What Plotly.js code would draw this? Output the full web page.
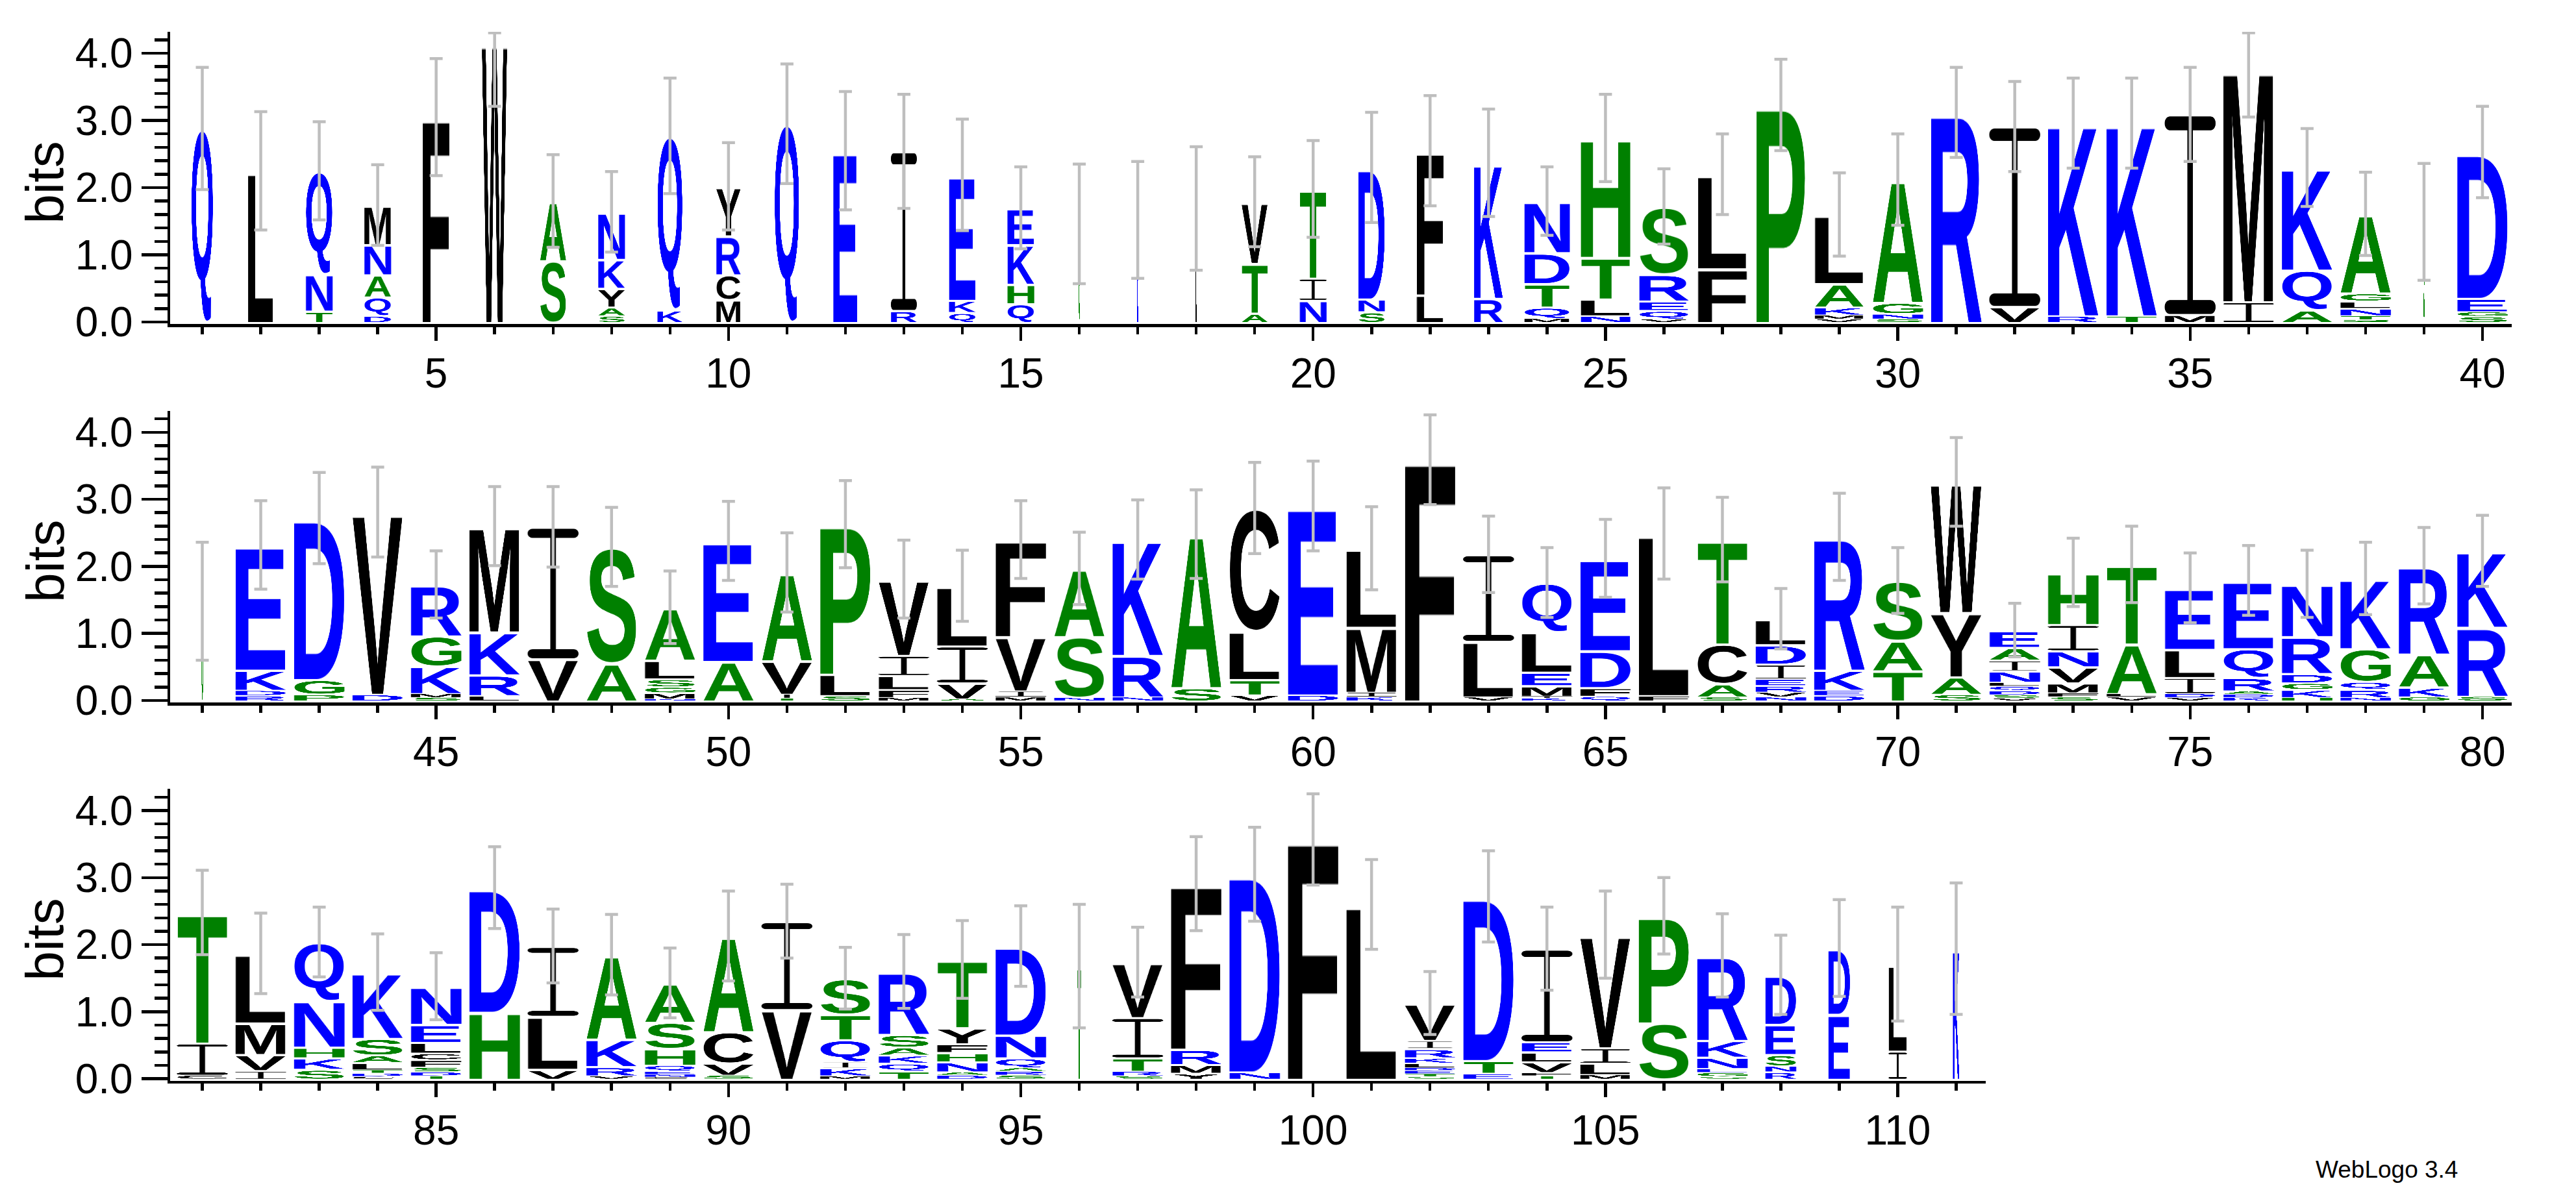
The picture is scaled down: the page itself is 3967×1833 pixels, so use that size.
<!DOCTYPE html>
<html>
<head>
<meta charset="utf-8">
<script src="https://cdn.plot.ly/plotly-3.0.1.min.js"></script>
<style>
html,body{margin:0;padding:0;background:#ffffff;}
#chart{width:3967px;height:1833px;}
</style>
</head>
<body>
<div id="chart"></div>
<script>
// ---------------- DATA (read from the reference logo) ----------------
// letters of each stack, bottom to top, positions 1..111
const letters = [
  "Q","L","TNQ","DQANM","F","W","SA","SAYKN","KQ","MCRY",
  "Q","E","RI","QKE","QHKE","G","E","L","ATV","NIT",
  "SND","LF","RK","MQTDN","NLTH","VQERS","FL","P","VMKAL","SNGA",
  "R","VI","RK","TK","MI","IM","AQK","STNLGA","G","SGED",
  "G","RDKE","PGD","DV","SMKGR","LRKM","VI","AS","NMGSLA","AE",
  "TIVA","SLP","MFLIV","AVIL","MIVF","NSA","NRK","SA","VTLC","DE",
  "KIML","F","VLI","KIMELQ","QFDE","FL","SACT","NVREIDL","DEKR","TAS",
  "SAYW","VSDQLNIAE","SFMVNIH","VLAT","VDILE","KDARQE","HKGDRN","NRQGK","GKAR","SRK",
  "CIT","IVML","SKHNQ","CDTLASK","TDSFCLEN","HD","VLI","VRKA","CNEQHSA","SVCA",
  "VI","MKIQTS","TQKASR","DANHFYT","SRAQND","T","SRTIV","YMRF","ND","F",
  "L","STEDLKRIV","ETD","TFVLEI","MLIV","SP","SGENKR","RNSED","ED","IL",
  "K"
];
// letter heights in bits, same order as the letters
const heights = [
  [2.88],[2.25],[0.17,0.55,1.53],[0.1,0.28,0.33,0.45,0.58],[3.05],[4.18],[0.92,0.88],[0.1,0.13,0.28,0.43,0.7],[0.19,2.58],[0.34,0.37,0.58,0.73],
  [2.95],[2.55],[0.18,2.36],[0.15,0.18,1.86],[0.28,0.29,0.59,0.54],[1.46],[1.52],[1.69],[0.14,0.74,0.91],[0.33,0.33,1.32],
  [0.16,0.19,1.95],[0.41,2.14],[0.36,2.01],[0.06,0.17,0.35,0.46,0.76],[0.1,0.25,0.62,1.77],[0.05,0.13,0.14,0.4,1.0],[0.8,1.4],[3.23],[0.05,0.06,0.12,0.35,1.02],[0.05,0.08,0.17,1.82],
  [3.12],[0.24,2.67],[0.1,2.86],[0.1,2.86],[0.12,2.97],[0.31,3.45],[0.19,0.59,1.52],[0.04,0.06,0.11,0.11,0.12,1.17],[1.49],[0.09,0.07,0.2,2.17],
  [1.48],[0.08,0.08,0.3,1.86],[0.1,0.22,2.4],[0.1,2.71],[0.05,0.06,0.41,0.45,0.76],[0.08,0.31,0.64,1.57],[0.63,1.96],[0.56,1.73],[0.03,0.09,0.09,0.12,0.28,0.78],[0.59,1.79],
  [0.04,0.06,0.5,1.31],[0.08,0.32,2.23],[0.05,0.12,0.21,0.3,1.13],[0.03,0.24,0.55,0.89],[0.06,0.09,0.81,1.44],[0.05,0.91,1.01],[0.06,0.62,1.72],[0.2,2.28],[0.09,0.23,0.72,1.83],[0.09,2.81],
  [0.06,0.07,0.97,1.17],[3.59],[0.06,0.83,1.29],[0.04,0.03,0.16,0.2,0.6,0.73],[0.07,0.13,0.55,1.37],[0.08,2.41],[0.06,0.2,0.59,1.55],[0.06,0.07,0.1,0.1,0.22,0.29,0.38],[0.08,0.08,0.3,1.98],[0.45,0.45,0.89],
  [0.1,0.26,0.96,1.94],[0.04,0.05,0.06,0.07,0.06,0.17,0.16,0.19,0.25],[0.06,0.06,0.15,0.24,0.24,0.39,0.77],[0.06,0.05,0.74,1.18],[0.05,0.06,0.24,0.42,0.91],[0.05,0.05,0.05,0.2,0.43,1.01],[0.05,0.12,0.1,0.14,0.55,0.78],[0.05,0.12,0.12,0.49,1.04],[0.06,0.15,0.49,1.31],[0.07,1.03,1.13],
  [0.06,0.48,1.94],[0.13,0.24,0.47,1.03],[0.15,0.17,0.16,0.69,0.87],[0.04,0.05,0.05,0.11,0.11,0.25,0.98],[0.05,0.06,0.07,0.11,0.1,0.16,0.27,0.56],[1.0,1.85],[0.15,0.79,1.04],[0.05,0.14,0.41,1.25],[0.03,0.04,0.05,0.09,0.25,0.39,0.58],[0.06,0.18,0.47,1.42],
  [1.04,1.31],[0.05,0.12,0.09,0.33,0.38,0.53],[0.12,0.12,0.12,0.12,0.19,0.93],[0.06,0.05,0.15,0.14,0.13,0.24,1.01],[0.06,0.06,0.05,0.15,0.34,1.32],[1.68],[0.05,0.07,0.2,0.6,0.82],[0.09,0.13,0.23,2.46],[0.11,2.94],[3.57],
  [2.6],[0.04,0.04,0.05,0.04,0.07,0.08,0.14,0.12,0.55],[0.09,0.19,2.44],[0.05,0.05,0.16,0.15,0.15,1.38],[0.07,0.17,0.23,1.68],[0.84,1.59],[0.04,0.06,0.06,0.17,0.25,1.26],[0.11,0.09,0.17,0.45,0.73],[0.97,0.98],[0.42,1.29],
  [1.94]
];
// relative stack width (fraction of non-gap sequences)
const stackWidths = [
  0.43,0.5,0.53,0.53,0.53,0.5,0.52,0.53,0.5,0.48,
  0.49,0.48,0.51,0.53,0.53,0.025,0.03,0.03,0.52,0.53,
  0.52,0.53,0.57,0.9,0.98,0.98,0.97,0.97,0.97,1,
  1,1,1,1,1,1,1,1,0.025,1,
  0.035,1,1,1,1,1,1,1,1,1,
  1,1,1,1,1,1,1,1,1,1,
  1,1,1,1,1,1,1,1,1,1,
  1,1,1,1,1,1,1,1,1,1,
  1,1,1,1,1,1,1,1,1,1,
  1,1,1,1,1,0.075,1,1,1,1,
  1,1,1,1,1,1,1,0.61,0.43,0.36,
  0.13
];
// half-length of the error bar (bits)
const errorHalf = [
  0.91,0.88,0.73,0.6,0.87,0.97,0.69,0.6,0.86,0.65,
  0.89,0.88,0.85,0.83,0.61,0.89,0.87,0.92,0.67,0.72,
  0.82,0.82,0.8,0.51,0.65,0.56,0.6,0.68,0.62,0.68,
  0.67,0.67,0.67,0.67,0.7,0.71,0.58,0.62,0.87,0.68,
  0.88,0.66,0.68,0.67,0.5,0.59,0.6,0.59,0.54,0.59,
  0.59,0.65,0.58,0.53,0.58,0.54,0.59,0.66,0.68,0.67,
  0.62,0.67,0.57,0.52,0.58,0.68,0.63,0.45,0.65,0.49,
  0.66,0.4,0.51,0.57,0.52,0.52,0.5,0.54,0.57,0.53,
  0.63,0.6,0.52,0.57,0.5,0.61,0.55,0.6,0.52,0.67,
  0.55,0.46,0.55,0.58,0.6,0.92,0.52,0.7,0.7,0.68,
  0.67,0.47,0.68,0.62,0.65,0.57,0.62,0.59,0.72,0.85,
  0.98
];
const rowFirst = [1, 41, 81];
const rowLast  = [40, 80, 111];
const maxBits = 4.32;
const yLabel = "bits";
const creditText = "WebLogo 3.4";

// ---------------- STYLE ----------------
const FONT = '"Liberation Sans", Arial, Helvetica, sans-serif';
const BLUE = "#0000ff", GREEN = "#008000", BLACK = "#000000";
const colorOf = ch => ("RKDENQ".includes(ch) ? BLUE : ("SGHTAP".includes(ch) ? GREEN : BLACK));
const W = 3967, H = 1833;
const FULL_W = 0.87;        // full stack width in position units
const xDom0 = 262 / W;
const xDomEnd = [3868 / W, 3868 / W, 3057.5 / W];
const yDoms = [[0.72771, 0.97332], [0.40966, 0.65483], [0.09176, 0.33693]];

const glyphCache = {};
function glyph(ch) {
  if (glyphCache[ch]) return glyphCache[ch];
  const col = colorOf(ch);
  const c = document.createElement("canvas");
  let ctx;
  if (ch === "I") {
    c.width = 200; c.height = 600;
    ctx = c.getContext("2d");
    ctx.fillStyle = col;
    const bar = 42, r = 20;
    const rr = (x, y, w, h) => { ctx.beginPath(); ctx.moveTo(x + r, y); ctx.arcTo(x + w, y, x + w, y + h, r); ctx.arcTo(x + w, y + h, x, y + h, r); ctx.arcTo(x, y + h, x, y, r); ctx.arcTo(x, y, x + w, y, r); ctx.closePath(); ctx.fill(); };
    rr(0, 0, 200, bar); rr(0, 600 - bar, 200, bar);
    ctx.fillRect(89, bar - 2, 22, 600 - 2 * bar + 4);
  } else {
    const fs = 320;
    ctx = c.getContext("2d");
    ctx.font = "bold " + fs + "px " + FONT;
    const m = ctx.measureText(ch);
    const l = m.actualBoundingBoxLeft, rgt = m.actualBoundingBoxRight;
    const a = m.actualBoundingBoxAscent, d = m.actualBoundingBoxDescent;
    c.width = Math.max(2, Math.ceil(l + rgt));
    c.height = Math.max(2, Math.ceil(a + d));
    ctx = c.getContext("2d");
    ctx.font = "bold " + fs + "px " + FONT;
    ctx.fillStyle = col;
    ctx.textBaseline = "alphabetic";
    ctx.fillText(ch, l, a);
  }
  glyphCache[ch] = c.toDataURL("image/png");
  return glyphCache[ch];
}

function build() {
  const images = [];
  const traces = [];
  const layout = {
    width: W, height: H,
    margin: {l: 0, r: 0, t: 0, b: 0},
    paper_bgcolor: "#ffffff", plot_bgcolor: "rgba(0,0,0,0)",
    showlegend: false,
    font: {family: FONT, color: "#000000"},
    annotations: []
  };
  for (let r = 0; r < 3; r++) {
    const sfx = r === 0 ? "" : String(r + 1);
    const xs = [], tops = [], up = [], dn = [];
    for (let p = rowFirst[r]; p <= rowLast[r]; p++) {
      const i = p - 1;
      let base = 0;
      const w = stackWidths[i] * FULL_W;
      for (let k = 0; k < letters[i].length; k++) {
        const h = heights[i][k];
        const gap = Math.min(0.03, h * 0.22);
        images.push({
          source: glyph(letters[i][k]),
          xref: "x" + sfx, yref: "y" + sfx,
          x: p, y: base, sizex: w, sizey: h - gap,
          xanchor: "center", yanchor: "bottom",
          sizing: "stretch", layer: "below"
        });
        base += h;
      }
      xs.push(p); tops.push(base);
      dn.push(errorHalf[i]);
      up.push(Math.min(errorHalf[i], maxBits - 0.015 - base));
    }
    traces.push({
      type: "scatter", mode: "markers", x: xs, y: tops,
      xaxis: "x" + sfx, yaxis: "y" + sfx,
      marker: {size: 2, color: "rgba(0,0,0,0)"},
      error_y: {type: "data", symmetric: false, array: up, arrayminus: dn,
                color: "#bebebe", thickness: 4.5, width: 10},
      hoverinfo: "skip", cliponaxis: false
    });
    layout["xaxis" + sfx] = {
      domain: [xDom0, xDomEnd[r]], anchor: "y" + sfx,
      range: [rowFirst[r] - 0.55, rowLast[r] + 0.5],
      showgrid: false, zeroline: false, showline: true, linecolor: "#000", linewidth: 4.5,
      ticks: "outside", ticklen: 21, tickwidth: 4.5, tickcolor: "#000",
      tick0: 0, dtick: 5, tickfont: {family: FONT, size: 64, color: "#000"},
      ticklabelstandoff: -4,
      minor: {ticks: "outside", tick0: 0, dtick: 1, ticklen: 11, tickwidth: 4.5, tickcolor: "#000", showgrid: false},
      fixedrange: true
    };
    layout["yaxis" + sfx] = {
      domain: yDoms[r], anchor: "x" + sfx,
      range: [-0.03, maxBits],
      showgrid: false, zeroline: false, showline: true, linecolor: "#000", linewidth: 4.5,
      ticks: "outside", ticklen: 40, tickwidth: 4.5, tickcolor: "#000",
      tick0: 0, dtick: 1, tickformat: ".1f",
      tickfont: {family: FONT, size: 64, color: "#000"},
      minor: {ticks: "outside", tick0: 0, dtick: 0.2, ticklen: 20, tickwidth: 4.5, tickcolor: "#000", showgrid: false},
      fixedrange: true
    };
    layout.annotations.push({
      text: yLabel, xref: "paper", yref: "y" + sfx, x: 69 / W, y: 2.08,
      xanchor: "center", yanchor: "middle", textangle: -90, showarrow: false,
      font: {family: FONT, size: 82, color: "#000"}
    });
  }
  layout.annotations.push({
    text: creditText, xref: "paper", yref: "paper", x: 3787 / W, y: 1 - 1801 / H,
    xanchor: "right", yanchor: "middle", showarrow: false,
    font: {family: FONT, size: 37, color: "#000"}
  });
  layout.images = images;
  Plotly.newPlot("chart", traces, layout, {staticPlot: true, displayModeBar: false});
}

const go = () => { try { build(); } catch (e) { console.error(e); } };
if (document.fonts && document.fonts.load) {
  document.fonts.load('bold 320px "Liberation Sans"').then(go, go);
} else { go(); }
</script>
</body>
</html>
